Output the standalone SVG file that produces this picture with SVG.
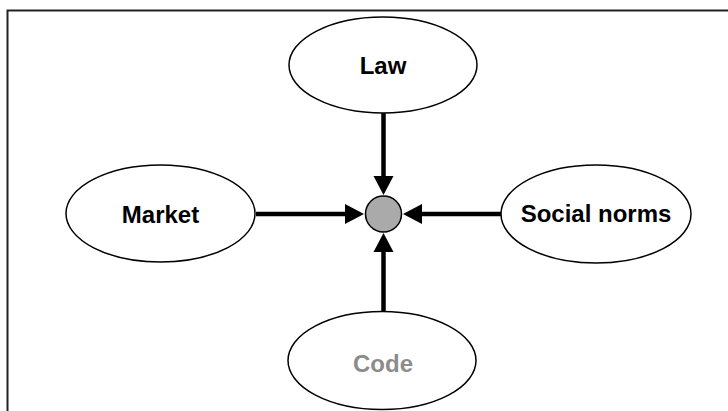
<svg xmlns="http://www.w3.org/2000/svg" width="728" height="411" viewBox="0 0 728 411">
<style>
.node ellipse{fill:#fff;stroke:#000;stroke-width:1.5}
.lbl{font-family:"Liberation Sans",Arial,Helvetica,sans-serif;font-weight:bold;font-size:24px;text-anchor:middle;fill:#000}
.conn line{stroke:#000;stroke-width:4.5}
</style>
<defs>
<marker id="ah" markerUnits="userSpaceOnUse" markerWidth="20" markerHeight="22" refX="1" refY="10" orient="auto" overflow="visible">
<path d="M0,0 L19,10 L0,20 Z" fill="#000"/>
</marker>
</defs>
<rect width="728" height="411" fill="#fff"/>
<path d="M7.5,411 V10.5 H728" fill="none" stroke="#222" stroke-width="2"/>
<g id="law" class="node"><ellipse cx="383" cy="65" rx="94" ry="48"/><text class="lbl" x="383" y="74">Law</text></g>
<g id="market" class="node"><ellipse cx="160.5" cy="213.5" rx="94.5" ry="48.5"/><text class="lbl" x="160.5" y="223">Market</text></g>
<g id="social" class="node"><ellipse cx="596" cy="214" rx="95" ry="49"/><text class="lbl" x="596" y="222">Social norms</text></g>
<g id="code" class="node"><ellipse cx="382" cy="360.5" rx="94" ry="49"/><text class="lbl" x="383" y="371.5" style="fill:#8c8c8c">Code</text></g>
<g id="center"><circle cx="383.5" cy="214" r="18" fill="#aaa" stroke="#000" stroke-width="1.5"/></g>
<g id="connectors" class="conn">
<line x1="256" y1="214" x2="346" y2="214" marker-end="url(#ah)"/>
<line x1="501" y1="214" x2="421" y2="214" marker-end="url(#ah)"/>
<line x1="383.5" y1="113" x2="383.5" y2="177" marker-end="url(#ah)"/>
<line x1="383.5" y1="311" x2="383.5" y2="251" marker-end="url(#ah)"/>
</g>
</svg>
